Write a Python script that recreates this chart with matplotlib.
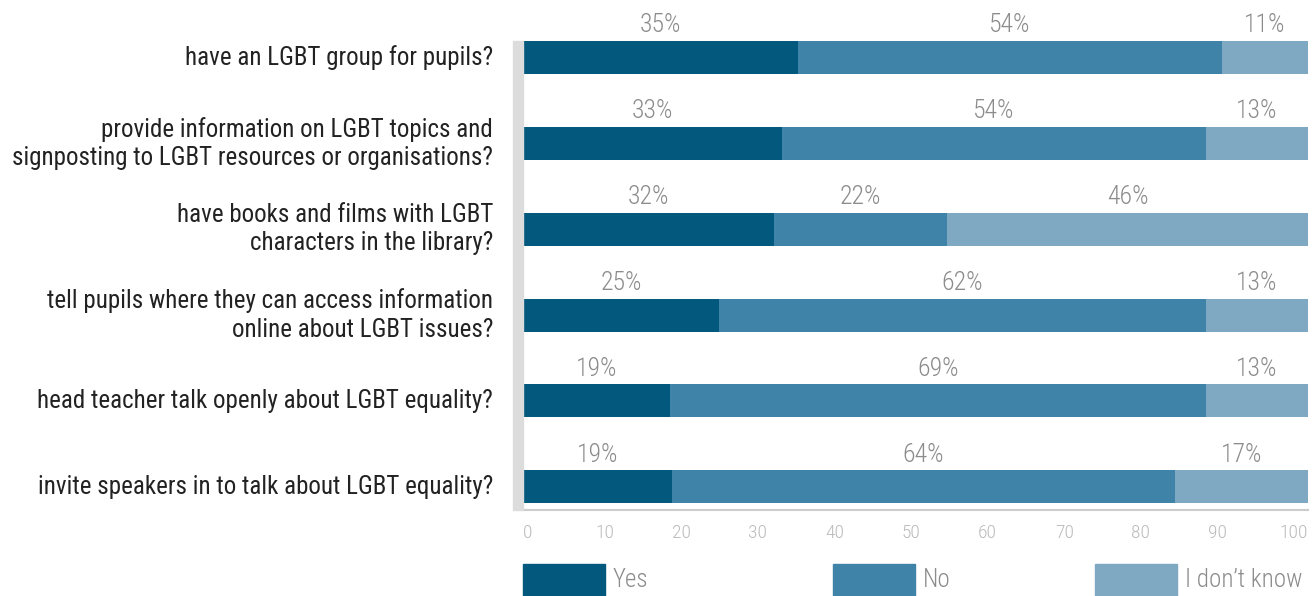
import matplotlib
matplotlib.use("Agg")
import matplotlib.pyplot as plt
from matplotlib import font_manager
from matplotlib.patches import Rectangle
from matplotlib.transforms import ScaledTranslation

categories = [
    "have an LGBT group for pupils?",
    "provide information on LGBT topics and\nsignposting to LGBT resources or organisations?",
    "have books and films with LGBT\ncharacters in the library?",
    "tell pupils where they can access information\nonline about LGBT issues?",
    "head teacher talk openly about LGBT equality?",
    "invite speakers in to talk about LGBT equality?",
]
series_names = ["Yes", "No", "I don\u2019t know"]
yes_vals = [35, 33, 32, 25, 18.7, 19]
no_vals = [54, 54, 22, 62, 68.3, 64]
dk_vals = [11, 13, 46, 13, 13, 17]
yes_labels = ["35%", "33%", "32%", "25%", "19%", "19%"]
no_labels = ["54%", "54%", "22%", "62%", "69%", "64%"]
dk_labels = ["11%", "13%", "46%", "13%", "13%", "17%"]
xticks = [0, 10, 20, 30, 40, 50, 60, 70, 80, 90, 100]
colors = ["#02587D", "#3F84A8", "#7FA8C2"]

avail = {f.name for f in font_manager.fontManager.ttflist}
fam = "DejaVu Sans"
for cand in ["Roboto Condensed", "Liberation Sans Narrow", "Open Sans Condensed", "Roboto"]:
    if cand in avail:
        fam = cand
        break
plt.rcParams["font.family"] = fam

W, H = 1316, 596
fig = plt.figure(figsize=(W / 100, H / 100), dpi=100)
ax = fig.add_axes([523 / W, 1 - 510 / H, (1308 - 523) / W, (510 - 41) / H])

ys = list(range(len(categories)))
bar_h = 0.385
all_vals = [yes_vals, no_vals, dk_vals]
all_labels = [yes_labels, no_labels, dk_labels]
left = [0.0] * len(categories)
for vals, labs, c in zip(all_vals, all_labels, colors):
    ax.barh(ys, vals, left=left, height=bar_h, color=c, edgecolor="none")
    for y, l, v, lab in zip(ys, left, vals, labs):
        ax.text(l + v / 2, y - 0.375, lab, ha="center", va="center",
                fontsize=18.5, color="#8C8C8C", fontweight="light")
    left = [a + b for a, b in zip(left, vals)]

ax.set_xlim(0, 100)
ax.set_ylim(5.27, -0.192)
ax.set_xticks(xticks)
ax.set_xticklabels([str(t) for t in xticks], fontsize=14, color="#BBBBBB",
                   fontweight="light")
ax.tick_params(axis="x", length=0, pad=10)
for t, lab in zip(xticks, ax.get_xticklabels()):
    shift = (5 - 0.19 * t) / 100
    lab.set_transform(lab.get_transform() + ScaledTranslation(shift, 0, fig.dpi_scale_trans))
ax.set_yticks([])
for s in ["top", "right", "left"]:
    ax.spines[s].set_visible(False)
ax.spines["bottom"].set_color("#CCCCCC")
ax.spines["bottom"].set_linewidth(1.5)

# left grey band
fig.patches.append(Rectangle((513 / W, 1 - 510 / H), 10 / W, (510 - 41) / H,
                             transform=fig.transFigure, color="#DCDCDC", zorder=0))

for y, cat in zip(ys, categories):
    ax.text(-3.8, y, cat, ha="right", va="center", fontsize=18,
            color="#222222", linespacing=1.22, transform=ax.transData)

# legend
leg_x = [523, 833, 1095]
for x0, name, c in zip(leg_x, series_names, colors):
    fig.patches.append(Rectangle((x0 / W, 0), 82 / W, 32 / H,
                                 transform=fig.transFigure, color=c))
    fig.text((x0 + 90) / W, 16 / H, name, ha="left", va="center",
             fontsize=18, color="#8C8C8C", fontweight="light")

fig.savefig("out.png", dpi=100)
